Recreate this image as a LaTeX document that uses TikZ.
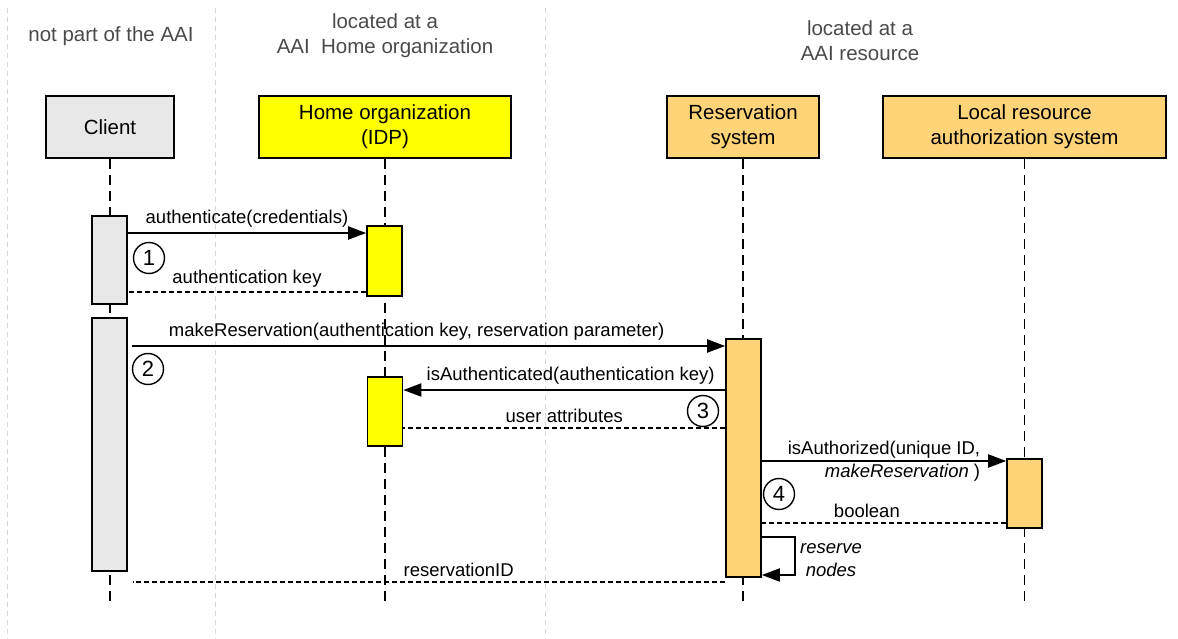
\documentclass[tikz,border=0pt]{standalone}
\usepackage{fontspec}
\setmainfont{Liberation Sans}
\usepackage{tikz}
\usetikzlibrary{positioning}
\usetikzlibrary{arrows.meta}

\definecolor{clientgray}{HTML}{E8E8E8}
\definecolor{idpyellow}{HTML}{FFFF00}
\definecolor{resorange}{HTML}{FFD479}
\definecolor{headgray}{HTML}{4A4A4A}
\definecolor{sepgray}{HTML}{D6D6D6}

\begin{document}
\begin{tikzpicture}[x=1pt,y=-1pt,
	actor/.style={draw, line width=1.8pt, minimum height=62pt, align=center, font=\fontsize{20.5}{25}\selectfont},
	act/.style={draw, line width=1.6pt, minimum width=35pt, inner sep=0pt},
	life/.style={line width=1.8pt, dash pattern=on 10pt off 6pt},
	sep/.style={sepgray, line width=1pt, dash pattern=on 5pt off 4pt},
	head/.style={headgray, align=center, font=\fontsize{20.5}{25}\selectfont},
	msg/.style={line width=1.9pt, -{Triangle[length=18pt,width=13pt]}},
	ret/.style={line width=1.5pt, dash pattern=on 5pt off 3pt},
	lbl/.style={font=\fontsize{18.5}{23}\selectfont},
	num/.style={draw, circle, line width=1.4pt, minimum size=31pt, inner sep=0pt, font=\fontsize{22}{24}\selectfont}]
	\useasboundingbox (0,0) rectangle (1178,639);

	\coordinate (s1) at (7,8);
	\coordinate (s2) at (215,8);
	\coordinate (s3) at (545,8);
	\draw[sep] (s1) -- (s1 |- 0,639);
	\draw[sep] (s2) -- (s2 |- 0,639);
	\draw[sep] (s3) -- (s3 |- 0,639);

	\node[head] (h1) at (111,36) {not part of the AAI};
	\node[head] (h2) at (385,36) {located at a\\AAI\ \ Home organization};
	\node[head] (h3) at (860,41) {located at a\\AAI resource};

	\node[actor, fill=clientgray, minimum width=128pt] (client) at (110,127) {Client};
	\node[actor, fill=idpyellow, minimum width=252pt] (idp) at (385,127) {Home organization\\(IDP)};
	\node[actor, fill=resorange, minimum width=152pt] (res) at (743,127) {Reservation\\system};
	\node[actor, fill=resorange, minimum width=283pt] (local) at (1024.5,127) {Local resource\\authorization system};

	\draw[life] (client.south) -- (client.south |- 0,606);
	\draw[life] (idp.south) -- (idp.south |- 0,606);
	\draw[life] (res.south) -- (res.south |- 0,606);
	\draw[life] (local.south) -- (local.south |- 0,606);

	\node[act, fill=clientgray, minimum height=88pt] (c1) at (109.5,260) {};
	\node[act, fill=clientgray, minimum height=253pt] (c2) at (109.5,444.5) {};
	\node[act, fill=idpyellow, minimum height=70pt] (i1) at (384.5,261) {};
	\node[act, fill=idpyellow, minimum height=69pt] (i2) at (385,411.5) {};
	\node[act, fill=resorange, minimum height=238pt] (r1) at (743.5,458) {};
	\node[act, fill=resorange, minimum height=69pt] (l1) at (1024.5,493.5) {};

	\draw[msg] (c1.east |- 0,233) -- node[lbl, above=1pt] {authenticate(credentials)} (i1.west |- 0,233);
	\draw[ret] (i1.west |- 0,292) -- node[lbl, above=1pt] {authentication key} (c1.east |- 0,292);
	\node[num] (n1) at (149,258) {1};

	\draw[msg] ([xshift=4pt]c2.east |- 0,346) -- node[lbl, above=1pt, pos=0.48] {makeReservation(authentication key, reservation parameter)} (r1.west |- 0,346);
	\node[num] (n2) at (148,369) {2};

	\draw[msg] (r1.west |- 0,390) -- node[lbl, above=1pt, pos=0.48] {isAuthenticated(authentication key)} (i2.east |- 0,390);
	\draw[ret] (r1.west |- 0,428) -- node[lbl, above=1pt] {user attributes} (i2.east |- 0,428);
	\node[num] (n3) at (703,411) {3};

	\draw[msg] (r1.east |- 0,461) -- node[lbl, align=right] {isAuthorized(unique ID,\\\textit{makeReservation} )} (l1.west |- 0,461);
	\draw[ret] (l1.west |- 0,523) -- node[lbl, above=1pt, pos=0.57] {boolean} (r1.east |- 0,523);
	\node[num] (n4) at (779,494) {4};

	\draw[msg] (r1.east |- 0,537) -- ++(33,0) |- (r1.east |- 0,575);
	\node[lbl, align=center, font=\fontsize{18.5}{23}\selectfont\itshape] (loop) at (831,560) {reserve\\nodes};

	\draw[ret] (r1.west |- 0,582) -- node[lbl, above=1pt, pos=0.45] {reservationID} ([xshift=5pt]c2.east |- 0,582);
\end{tikzpicture}
\end{document}
